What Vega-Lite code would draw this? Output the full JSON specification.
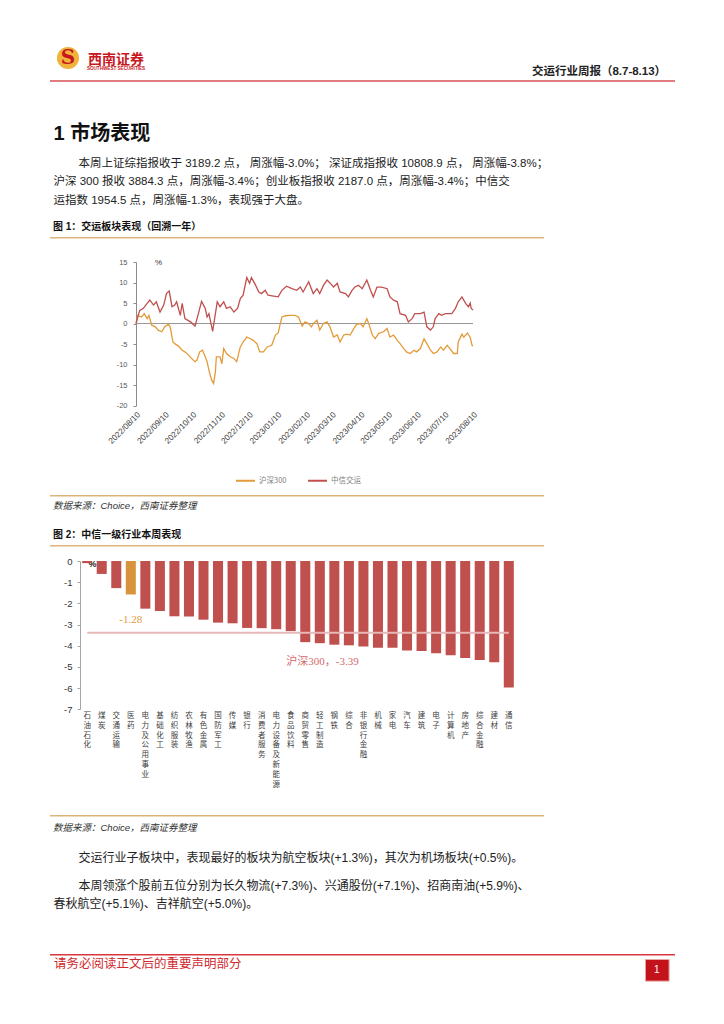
{
 "$schema": "https://vega.github.io/schema/vega-lite/v6.json",
 "background": "white",
 "padding": {"left": 50, "top": 36, "right": 0, "bottom": 0},
 "bounds": "flush",
 "spacing": 0,
 "resolve": {"scale": {"color": "independent"}, "legend": {"color": "independent"}},
 "config": {"view": {"stroke": null}, "font": "Liberation Sans, Noto Sans CJK SC"},
 "vconcat": [
  {"hconcat": [
    {"width": 36, "height": 44, "data": {"values": [{"s": "S"}]}, "layer": [
      {"mark": {"type": "point", "shape": "circle", "filled": true, "size": 490, "color": "#F0B43C", "opacity": 1}},
      {"mark": {"type": "text", "fontSize": 20, "fontWeight": "bold", "color": "#C8161D", "font": "DejaVu Serif"}, "encoding": {"text": {"field": "s"}}}
    ]},
    {"width": 60, "height": 44, "layer": [
      {"data": {"values": [{"t": "西南证券"}]}, "mark": {"type": "text", "fontSize": 14, "fontWeight": "bold", "color": "#C8161D", "dy": 2, "font": "Noto Sans CJK SC"}, "encoding": {"text": {"field": "t"}}},
      {"data": {"values": [{"t": "SOUTHWEST SECURITIES"}]}, "mark": {"type": "text", "fontSize": 4.6, "fontWeight": "bold", "color": "#C8161D", "dy": 11.3}, "encoding": {"text": {"field": "t"}}}
    ]},
    {"width": 386, "height": 44, "data": {"values": []}, "mark": "point"},
    {"width": 134, "height": 44, "data": {"values": [{"t": "交运行业周报（8.7-8.13）"}]}, "mark": {"type": "text", "fontSize": 11.5, "fontWeight": "bold", "color": "#222222", "dy": 13.7}, "encoding": {"text": {"field": "t"}}}
   ], "spacing": 0, "bounds": "flush"},
  {"width": 10, "height": 44, "data": {"values": []}, "mark": "point"},
  {"width": 625, "height": 2, "data": {"values": []}, "mark": "point", "view": {"fill": "#e07b7f"}},
  {"width": 10, "height": 42, "data": {"values": []}, "mark": "point"},
  {"width": 625, "height": 20, "data": {"values": [{"t": "1 市场表现"}]}, "mark": {"type": "text", "align": "left", "baseline": "middle", "dx": 3.5, "fontSize": 20, "fontWeight": "bold", "color": "#111111"}, "encoding": {"text": {"field": "t"}, "x": {"datum": 0, "type": "quantitative", "scale": {"domain": [0, 1]}, "axis": null}}},
  {"width": 10, "height": 11, "data": {"values": []}, "mark": "point"},
  {"width": 625, "height": {"step": 18.33}, "data": {"values": [
    {"line": 1, "t": "本周上证综指报收于 3189.2 点， 周涨幅-3.0%； 深证成指报收 10808.9 点， 周涨幅-3.8%；"},
    {"line": 2, "t": "沪深 300 报收 3884.3 点，周涨幅-3.4%；创业板指报收 2187.0 点，周涨幅-3.4%；中信交"},
    {"line": 3, "t": "运指数 1954.5 点，周涨幅-1.3%，表现强于大盘。"}
   ]}, "layer": [
    {"transform": [{"filter": "datum.line == 1"}], "mark": {"type": "text", "align": "left", "baseline": "middle", "dx": 28.5, "fontSize": 11.5, "color": "#222222"}, "encoding": {"text": {"field": "t"}, "x": {"datum": 0, "type": "quantitative", "scale": {"domain": [0, 1]}, "axis": null}, "y": {"field": "line", "type": "ordinal", "axis": null}}},
    {"transform": [{"filter": "datum.line > 1"}], "mark": {"type": "text", "align": "left", "baseline": "middle", "dx": 3.5, "fontSize": 11.5, "color": "#222222"}, "encoding": {"text": {"field": "t"}, "x": {"datum": 0, "type": "quantitative", "scale": {"domain": [0, 1]}, "axis": null}, "y": {"field": "line", "type": "ordinal", "axis": null}}}
   ]},
  {"width": 10, "height": 7, "data": {"values": []}, "mark": "point"},
  {"width": 625, "height": 20, "data": {"values": [{"t": "图 1：交运板块表现（回溯一年）"}]}, "mark": {"type": "text", "align": "left", "baseline": "middle", "dx": 3, "fontSize": 10, "fontWeight": "bold", "color": "#111111"}, "encoding": {"text": {"field": "t"}, "x": {"datum": 0, "type": "quantitative", "scale": {"domain": [0, 1]}, "axis": null}}},
  {"width": 494, "height": 1.5, "data": {"values": []}, "mark": "point", "view": {"fill": "#ddb57a"}},
  {"width": 10, "height": 22.2, "data": {"values": []}, "mark": "point"},
  {"hconcat": [
    {"width": 86, "height": 143.6, "data": {"values": []}, "mark": "point"},
    {"width": 337, "height": 143.6, "layer": [
      {"data": {"values": [{}]}, "mark": {"type": "rule", "color": "#969696", "strokeWidth": 1},
       "encoding": {"y": {"datum": 0, "type": "quantitative", "scale": {"domain": [-20, 15], "nice": false, "zero": false},
         "axis": {"title": "%", "titleAngle": 0, "titleX": 22, "titleY": 0, "titleAlign": "center", "titleBaseline": "middle", "titleFontSize": 8, "titleFontWeight": "normal", "titleColor": "#333333", "values": [-20, -15, -10, -5, 0, 5, 10, 15], "labelExpr": "datum.value < 0 ? '-' + abs(datum.value) : '' + datum.value", "labelOverlap": false, "grid": false, "domainColor": "#8c8c8c", "tickColor": "#8c8c8c", "tickSize": 3, "labelPadding": 6, "labelFontSize": 7.5, "labelColor": "#595959"}}}},
      {"data": {"values": [
        {"date": "2022-08-10", "series": "沪深300", "value": 0},
        {"date": "2022-08-12", "series": "沪深300", "value": 2.0},
        {"date": "2022-08-16", "series": "沪深300", "value": 1.6},
        {"date": "2022-08-19", "series": "沪深300", "value": 2.4},
        {"date": "2022-08-22", "series": "沪深300", "value": 1.2},
        {"date": "2022-08-24", "series": "沪深300", "value": 2.0},
        {"date": "2022-08-27", "series": "沪深300", "value": -0.4},
        {"date": "2022-08-31", "series": "沪深300", "value": -0.8},
        {"date": "2022-09-03", "series": "沪深300", "value": -1.6},
        {"date": "2022-09-07", "series": "沪深300", "value": -2.0},
        {"date": "2022-09-10", "series": "沪深300", "value": -0.8},
        {"date": "2022-09-14", "series": "沪深300", "value": -0.2},
        {"date": "2022-09-16", "series": "沪深300", "value": -0.8},
        {"date": "2022-09-19", "series": "沪深300", "value": -4.5},
        {"date": "2022-09-21", "series": "沪深300", "value": -4.9},
        {"date": "2022-09-25", "series": "沪深300", "value": -5.5},
        {"date": "2022-09-29", "series": "沪深300", "value": -6.5},
        {"date": "2022-10-02", "series": "沪深300", "value": -6.9},
        {"date": "2022-10-06", "series": "沪深300", "value": -7.7},
        {"date": "2022-10-09", "series": "沪深300", "value": -8.5},
        {"date": "2022-10-13", "series": "沪深300", "value": -9.3},
        {"date": "2022-10-15", "series": "沪深300", "value": -8.9},
        {"date": "2022-10-18", "series": "沪深300", "value": -6.9},
        {"date": "2022-10-21", "series": "沪深300", "value": -6.5},
        {"date": "2022-10-24", "series": "沪深300", "value": -8.1},
        {"date": "2022-10-26", "series": "沪深300", "value": -9.3},
        {"date": "2022-10-28", "series": "沪深300", "value": -11.4},
        {"date": "2022-10-31", "series": "沪深300", "value": -13.8},
        {"date": "2022-11-02", "series": "沪深300", "value": -14.6},
        {"date": "2022-11-04", "series": "沪深300", "value": -11.8},
        {"date": "2022-11-05", "series": "沪深300", "value": -8.1},
        {"date": "2022-11-09", "series": "沪深300", "value": -8.1},
        {"date": "2022-11-11", "series": "沪深300", "value": -9.8},
        {"date": "2022-11-13", "series": "沪深300", "value": -6.1},
        {"date": "2022-11-16", "series": "沪深300", "value": -7.3},
        {"date": "2022-11-20", "series": "沪深300", "value": -8.1},
        {"date": "2022-11-24", "series": "沪深300", "value": -8.5},
        {"date": "2022-11-27", "series": "沪深300", "value": -9.3},
        {"date": "2022-12-01", "series": "沪深300", "value": -5.7},
        {"date": "2022-12-04", "series": "沪深300", "value": -4.5},
        {"date": "2022-12-08", "series": "沪深300", "value": -3.3},
        {"date": "2022-12-12", "series": "沪深300", "value": -3.7},
        {"date": "2022-12-15", "series": "沪深300", "value": -4.1},
        {"date": "2022-12-19", "series": "沪深300", "value": -4.9},
        {"date": "2022-12-22", "series": "沪深300", "value": -6.9},
        {"date": "2022-12-26", "series": "沪深300", "value": -6.9},
        {"date": "2022-12-30", "series": "沪深300", "value": -5.7},
        {"date": "2023-01-04", "series": "沪深300", "value": -5.3},
        {"date": "2023-01-08", "series": "沪深300", "value": -2.8},
        {"date": "2023-01-11", "series": "沪深300", "value": -2.3},
        {"date": "2023-01-15", "series": "沪深300", "value": 1.6},
        {"date": "2023-01-19", "series": "沪深300", "value": 1.9},
        {"date": "2023-01-24", "series": "沪深300", "value": 2.0},
        {"date": "2023-01-29", "series": "沪深300", "value": 2.0},
        {"date": "2023-02-02", "series": "沪深300", "value": 1.6},
        {"date": "2023-02-06", "series": "沪深300", "value": -0.6},
        {"date": "2023-02-09", "series": "沪深300", "value": 0.4},
        {"date": "2023-02-13", "series": "沪深300", "value": 0},
        {"date": "2023-02-16", "series": "沪深300", "value": -0.8},
        {"date": "2023-02-18", "series": "沪深300", "value": 0},
        {"date": "2023-02-22", "series": "沪深300", "value": 0.8},
        {"date": "2023-02-25", "series": "沪深300", "value": -1.6},
        {"date": "2023-03-01", "series": "沪深300", "value": 0},
        {"date": "2023-03-05", "series": "沪深300", "value": 0.4},
        {"date": "2023-03-08", "series": "沪深300", "value": -0.8},
        {"date": "2023-03-12", "series": "沪深300", "value": -3.3},
        {"date": "2023-03-16", "series": "沪深300", "value": -2.8},
        {"date": "2023-03-19", "series": "沪深300", "value": -4.5},
        {"date": "2023-03-23", "series": "沪深300", "value": -2.8},
        {"date": "2023-03-26", "series": "沪深300", "value": -2.6},
        {"date": "2023-03-30", "series": "沪深300", "value": -2.8},
        {"date": "2023-04-03", "series": "沪深300", "value": -1.2},
        {"date": "2023-04-06", "series": "沪深300", "value": -0.2},
        {"date": "2023-04-10", "series": "沪深300", "value": 0},
        {"date": "2023-04-13", "series": "沪深300", "value": -0.8},
        {"date": "2023-04-17", "series": "沪深300", "value": 1.2},
        {"date": "2023-04-19", "series": "沪深300", "value": 0},
        {"date": "2023-04-23", "series": "沪深300", "value": -2.8},
        {"date": "2023-04-26", "series": "沪深300", "value": -3.7},
        {"date": "2023-04-30", "series": "沪深300", "value": -2.4},
        {"date": "2023-05-05", "series": "沪深300", "value": -2.0},
        {"date": "2023-05-09", "series": "沪深300", "value": -1.2},
        {"date": "2023-05-12", "series": "沪深300", "value": -3.3},
        {"date": "2023-05-16", "series": "沪深300", "value": -2.8},
        {"date": "2023-05-20", "series": "沪深300", "value": -4.1},
        {"date": "2023-05-23", "series": "沪深300", "value": -4.9},
        {"date": "2023-05-27", "series": "沪深300", "value": -6.1},
        {"date": "2023-05-30", "series": "沪深300", "value": -6.9},
        {"date": "2023-06-03", "series": "沪深300", "value": -7.3},
        {"date": "2023-06-07", "series": "沪深300", "value": -6.5},
        {"date": "2023-06-10", "series": "沪深300", "value": -6.9},
        {"date": "2023-06-14", "series": "沪深300", "value": -6.1},
        {"date": "2023-06-18", "series": "沪深300", "value": -3.7},
        {"date": "2023-06-21", "series": "沪深300", "value": -4.9},
        {"date": "2023-06-25", "series": "沪深300", "value": -6.5},
        {"date": "2023-06-28", "series": "沪深300", "value": -7.3},
        {"date": "2023-07-02", "series": "沪深300", "value": -6.9},
        {"date": "2023-07-06", "series": "沪深300", "value": -5.7},
        {"date": "2023-07-09", "series": "沪深300", "value": -6.5},
        {"date": "2023-07-13", "series": "沪深300", "value": -5.3},
        {"date": "2023-07-16", "series": "沪深300", "value": -6.1},
        {"date": "2023-07-20", "series": "沪深300", "value": -7.3},
        {"date": "2023-07-24", "series": "沪深300", "value": -7.3},
        {"date": "2023-07-25", "series": "沪深300", "value": -4.5},
        {"date": "2023-07-29", "series": "沪深300", "value": -2.6},
        {"date": "2023-07-31", "series": "沪深300", "value": -3.3},
        {"date": "2023-08-04", "series": "沪深300", "value": -2.3},
        {"date": "2023-08-07", "series": "沪深300", "value": -3.4},
        {"date": "2023-08-09", "series": "沪深300", "value": -5.3},
        {"date": "2023-08-10", "series": "沪深300", "value": -5.5},
        {"date": "2022-08-10", "series": "中信交运", "value": 0},
        {"date": "2022-08-14", "series": "中信交运", "value": 3.2},
        {"date": "2022-08-18", "series": "中信交运", "value": 3.7},
        {"date": "2022-08-22", "series": "中信交运", "value": 4.9},
        {"date": "2022-08-25", "series": "中信交运", "value": 5.7},
        {"date": "2022-08-29", "series": "中信交运", "value": 4.5},
        {"date": "2022-09-01", "series": "中信交运", "value": 5.3},
        {"date": "2022-09-05", "series": "中信交运", "value": 2.8},
        {"date": "2022-09-09", "series": "中信交运", "value": 4.5},
        {"date": "2022-09-12", "series": "中信交运", "value": 7.3},
        {"date": "2022-09-15", "series": "中信交运", "value": 7.9},
        {"date": "2022-09-18", "series": "中信交运", "value": 4.1},
        {"date": "2022-09-21", "series": "中信交运", "value": 4.5},
        {"date": "2022-09-23", "series": "中信交运", "value": 5.3},
        {"date": "2022-09-27", "series": "中信交运", "value": 2.0},
        {"date": "2022-09-29", "series": "中信交运", "value": 4.9},
        {"date": "2022-10-02", "series": "中信交运", "value": 1.2},
        {"date": "2022-10-08", "series": "中信交运", "value": 0.4},
        {"date": "2022-10-13", "series": "中信交运", "value": -0.6},
        {"date": "2022-10-17", "series": "中信交运", "value": 2.8},
        {"date": "2022-10-20", "series": "中信交运", "value": 5.4},
        {"date": "2022-10-24", "series": "中信交运", "value": 3.7},
        {"date": "2022-10-26", "series": "中信交运", "value": 1.6},
        {"date": "2022-10-28", "series": "中信交运", "value": 2.4},
        {"date": "2022-11-01", "series": "中信交运", "value": -1.9},
        {"date": "2022-11-04", "series": "中信交运", "value": 2.4},
        {"date": "2022-11-06", "series": "中信交运", "value": 5.3},
        {"date": "2022-11-09", "series": "中信交运", "value": 4.1},
        {"date": "2022-11-13", "series": "中信交运", "value": 5.3},
        {"date": "2022-11-16", "series": "中信交运", "value": 3.7},
        {"date": "2022-11-20", "series": "中信交运", "value": 4.1},
        {"date": "2022-11-24", "series": "中信交运", "value": 2.8},
        {"date": "2022-11-28", "series": "中信交运", "value": 3.7},
        {"date": "2022-12-01", "series": "中信交运", "value": 6.1},
        {"date": "2022-12-04", "series": "中信交运", "value": 6.9},
        {"date": "2022-12-08", "series": "中信交运", "value": 11.2},
        {"date": "2022-12-11", "series": "中信交运", "value": 9.8},
        {"date": "2022-12-13", "series": "中信交运", "value": 11.2},
        {"date": "2022-12-17", "series": "中信交运", "value": 9.6},
        {"date": "2022-12-21", "series": "中信交运", "value": 7.7},
        {"date": "2022-12-24", "series": "中信交运", "value": 7.3},
        {"date": "2022-12-28", "series": "中信交运", "value": 8.1},
        {"date": "2022-12-31", "series": "中信交运", "value": 6.9},
        {"date": "2023-01-06", "series": "中信交运", "value": 6.7},
        {"date": "2023-01-11", "series": "中信交运", "value": 6.5},
        {"date": "2023-01-15", "series": "中信交运", "value": 8.1},
        {"date": "2023-01-20", "series": "中信交运", "value": 9.1},
        {"date": "2023-01-26", "series": "中信交运", "value": 8.5},
        {"date": "2023-01-31", "series": "中信交运", "value": 8.1},
        {"date": "2023-02-04", "series": "中信交运", "value": 8.9},
        {"date": "2023-02-07", "series": "中信交运", "value": 7.7},
        {"date": "2023-02-13", "series": "中信交运", "value": 10.2},
        {"date": "2023-02-18", "series": "中信交运", "value": 7.3},
        {"date": "2023-02-22", "series": "中信交运", "value": 8.5},
        {"date": "2023-02-25", "series": "中信交运", "value": 7.3},
        {"date": "2023-03-01", "series": "中信交运", "value": 9.3},
        {"date": "2023-03-05", "series": "中信交运", "value": 10.6},
        {"date": "2023-03-08", "series": "中信交运", "value": 9.9},
        {"date": "2023-03-12", "series": "中信交运", "value": 8.9},
        {"date": "2023-03-16", "series": "中信交运", "value": 9.8},
        {"date": "2023-03-19", "series": "中信交运", "value": 7.7},
        {"date": "2023-03-25", "series": "中信交运", "value": 7.3},
        {"date": "2023-03-28", "series": "中信交运", "value": 6.5},
        {"date": "2023-04-01", "series": "中信交运", "value": 8.1},
        {"date": "2023-04-04", "series": "中信交运", "value": 8.9},
        {"date": "2023-04-08", "series": "中信交运", "value": 9.3},
        {"date": "2023-04-12", "series": "中信交运", "value": 8.5},
        {"date": "2023-04-17", "series": "中信交运", "value": 10.6},
        {"date": "2023-04-21", "series": "中信交运", "value": 8.1},
        {"date": "2023-04-24", "series": "中信交运", "value": 6.5},
        {"date": "2023-04-28", "series": "中信交运", "value": 8.9},
        {"date": "2023-05-03", "series": "中信交运", "value": 8.9},
        {"date": "2023-05-09", "series": "中信交运", "value": 8.5},
        {"date": "2023-05-12", "series": "中信交运", "value": 6.5},
        {"date": "2023-05-16", "series": "中信交运", "value": 5.7},
        {"date": "2023-05-20", "series": "中信交运", "value": 5.3},
        {"date": "2023-05-23", "series": "中信交运", "value": 2.4},
        {"date": "2023-05-29", "series": "中信交运", "value": 2.0},
        {"date": "2023-06-01", "series": "中信交运", "value": 0.4},
        {"date": "2023-06-05", "series": "中信交运", "value": 1.2},
        {"date": "2023-06-08", "series": "中信交运", "value": 2.4},
        {"date": "2023-06-14", "series": "中信交运", "value": 2.4},
        {"date": "2023-06-18", "series": "中信交运", "value": 2.8},
        {"date": "2023-06-21", "series": "中信交运", "value": -0.8},
        {"date": "2023-06-25", "series": "中信交运", "value": -1.6},
        {"date": "2023-06-28", "series": "中信交运", "value": -0.8},
        {"date": "2023-06-30", "series": "中信交运", "value": 1.2},
        {"date": "2023-07-04", "series": "中信交运", "value": 2.4},
        {"date": "2023-07-07", "series": "中信交运", "value": 2.0},
        {"date": "2023-07-11", "series": "中信交运", "value": 2.4},
        {"date": "2023-07-15", "series": "中信交运", "value": 2.4},
        {"date": "2023-07-18", "series": "中信交运", "value": 2.4},
        {"date": "2023-07-22", "series": "中信交运", "value": 3.7},
        {"date": "2023-07-25", "series": "中信交运", "value": 5.3},
        {"date": "2023-07-29", "series": "中信交运", "value": 6.5},
        {"date": "2023-08-02", "series": "中信交运", "value": 4.9},
        {"date": "2023-08-05", "series": "中信交运", "value": 4.1},
        {"date": "2023-08-07", "series": "中信交运", "value": 5.0},
        {"date": "2023-08-08", "series": "中信交运", "value": 3.7},
        {"date": "2023-08-10", "series": "中信交运", "value": 3.3}
       ]},
       "mark": {"type": "line", "strokeWidth": 1.3},
       "encoding": {
        "x": {"field": "date", "type": "temporal",
          "scale": {"type": "utc", "domain": [{"year": 2022, "month": 8, "date": 10, "utc": true}, {"year": 2023, "month": 8, "date": 10, "utc": true}]},
          "axis": {"title": null, "domain": false, "ticks": false, "grid": false, "labelAngle": -45, "labelFontSize": 8.2, "labelColor": "#404040", "labelPadding": 5, "labelExpr": "utcFormat(datum.value, '%Y/%m/%d')", "labelOverlap": false,
            "values": [
              {"year": 2022, "month": 8, "date": 10, "utc": true},
              {"year": 2022, "month": 9, "date": 10, "utc": true},
              {"year": 2022, "month": 10, "date": 10, "utc": true},
              {"year": 2022, "month": 11, "date": 10, "utc": true},
              {"year": 2022, "month": 12, "date": 10, "utc": true},
              {"year": 2023, "month": 1, "date": 10, "utc": true},
              {"year": 2023, "month": 2, "date": 10, "utc": true},
              {"year": 2023, "month": 3, "date": 10, "utc": true},
              {"year": 2023, "month": 4, "date": 10, "utc": true},
              {"year": 2023, "month": 5, "date": 10, "utc": true},
              {"year": 2023, "month": 6, "date": 10, "utc": true},
              {"year": 2023, "month": 7, "date": 10, "utc": true},
              {"year": 2023, "month": 8, "date": 10, "utc": true}
            ]}},
        "y": {"field": "value", "type": "quantitative", "scale": {"domain": [-20, 15], "nice": false, "zero": false},
         "axis": {"title": "%", "titleAngle": 0, "titleX": 22, "titleY": 0, "titleAlign": "center", "titleBaseline": "middle", "titleFontSize": 8, "titleFontWeight": "normal", "titleColor": "#333333", "values": [-20, -15, -10, -5, 0, 5, 10, 15], "labelExpr": "datum.value < 0 ? '-' + abs(datum.value) : '' + datum.value", "labelOverlap": false, "grid": false, "domainColor": "#8c8c8c", "tickColor": "#8c8c8c", "tickSize": 3, "labelPadding": 6, "labelFontSize": 7.5, "labelColor": "#595959"}},
        "color": {"field": "series", "type": "nominal", "scale": {"domain": ["沪深300", "中信交运"], "range": ["#E39B3A", "#C0504D"]},
          "legend": {"orient": "none", "legendX": 99, "legendY": 208, "direction": "horizontal", "title": null, "labelFontSize": 7.5, "labelColor": "#7f7f7f", "labelFont": "Noto Sans CJK SC", "symbolType": "stroke", "symbolSize": 360, "symbolStrokeWidth": 2, "labelOffset": 3, "columnPadding": 17}}
       }}
    ]}
   ], "spacing": 0, "bounds": "flush", "resolve": {"scale": {"color": "independent"}, "legend": {"color": "independent"}}},
  {"width": 10, "height": 232.8, "data": {"values": []}, "mark": "point"},
  {"width": 494, "height": 1.5, "data": {"values": []}, "mark": "point", "view": {"fill": "#ddb57a"}},
  {"width": 625, "height": 18, "data": {"values": [{"t": "数据来源：Choice，西南证券整理"}]}, "mark": {"type": "text", "align": "left", "baseline": "middle", "dx": 3, "fontSize": 9.5, "fontStyle": "italic", "color": "#333333"}, "encoding": {"text": {"field": "t"}, "x": {"datum": 0, "type": "quantitative", "scale": {"domain": [0, 1]}, "axis": null}}},
  {"width": 10, "height": 10, "data": {"values": []}, "mark": "point"},
  {"width": 625, "height": 19.5, "data": {"values": [{"t": "图 2：中信一级行业本周表现"}]}, "mark": {"type": "text", "align": "left", "baseline": "middle", "dx": 3, "fontSize": 10, "fontWeight": "bold", "color": "#111111"}, "encoding": {"text": {"field": "t"}, "x": {"datum": 0, "type": "quantitative", "scale": {"domain": [0, 1]}, "axis": null}}},
  {"width": 494, "height": 1.5, "data": {"values": []}, "mark": "point", "view": {"fill": "#ddb57a"}},
  {"width": 10, "height": 13.7, "data": {"values": []}, "mark": "point"},
  {"hconcat": [
    {"width": 30, "height": 148.3, "data": {"values": []}, "mark": "point"},
    {"width": 436, "height": 148.3,
     "data": {"values": [
       {"industry": "石油石化", "chg": -0.10, "hs300": -3.39, "highlight": "no"},
       {"industry": "煤炭", "chg": -0.61, "hs300": -3.39, "highlight": "no"},
       {"industry": "交通运输", "chg": -1.28, "hs300": -3.39, "highlight": "no"},
       {"industry": "医药", "chg": -1.58, "hs300": -3.39, "highlight": "yes", "note": "-1.28"},
       {"industry": "电力及公用事业", "chg": -2.25, "hs300": -3.39, "highlight": "no"},
       {"industry": "基础化工", "chg": -2.36, "hs300": -3.39, "highlight": "no"},
       {"industry": "纺织服装", "chg": -2.61, "hs300": -3.39, "highlight": "no"},
       {"industry": "农林牧渔", "chg": -2.62, "hs300": -3.39, "highlight": "no"},
       {"industry": "有色金属", "chg": -2.77, "hs300": -3.39, "highlight": "no"},
       {"industry": "国防军工", "chg": -2.91, "hs300": -3.39, "highlight": "no"},
       {"industry": "传媒", "chg": -2.94, "hs300": -3.39, "highlight": "no"},
       {"industry": "银行", "chg": -3.16, "hs300": -3.39, "highlight": "no"},
       {"industry": "消费者服务", "chg": -3.17, "hs300": -3.39, "highlight": "no"},
       {"industry": "电力设备及新能源", "chg": -3.22, "hs300": -3.39, "highlight": "no"},
       {"industry": "食品饮料", "chg": -3.31, "hs300": -3.39, "highlight": "no"},
       {"industry": "商贸零售", "chg": -3.83, "hs300": -3.39, "highlight": "no"},
       {"industry": "轻工制造", "chg": -3.88, "hs300": -3.39, "highlight": "no", "refnote": "沪深300，-3.39"},
       {"industry": "钢铁", "chg": -3.95, "hs300": -3.39, "highlight": "no"},
       {"industry": "综合", "chg": -3.98, "hs300": -3.39, "highlight": "no"},
       {"industry": "非银行金融", "chg": -4.03, "hs300": -3.39, "highlight": "no"},
       {"industry": "机械", "chg": -4.09, "hs300": -3.39, "highlight": "no"},
       {"industry": "家电", "chg": -4.10, "hs300": -3.39, "highlight": "no"},
       {"industry": "汽车", "chg": -4.22, "hs300": -3.39, "highlight": "no"},
       {"industry": "建筑", "chg": -4.25, "hs300": -3.39, "highlight": "no"},
       {"industry": "电子", "chg": -4.36, "hs300": -3.39, "highlight": "no"},
       {"industry": "计算机", "chg": -4.45, "hs300": -3.39, "highlight": "no"},
       {"industry": "房地产", "chg": -4.58, "hs300": -3.39, "highlight": "no"},
       {"industry": "综合金融", "chg": -4.67, "hs300": -3.39, "highlight": "no"},
       {"industry": "建材", "chg": -4.78, "hs300": -3.39, "highlight": "no"},
       {"industry": "通信", "chg": -5.97, "hs300": -3.39, "highlight": "no"}
     ]},
     "layer": [
      {"mark": {"type": "bar"},
       "encoding": {
        "x": {"field": "industry", "type": "nominal", "sort": null, "scale": {"paddingInner": 0.31, "paddingOuter": 0.15},
          "axis": {"title": null, "domain": false, "ticks": false, "grid": false, "labelAngle": 0, "labelExpr": "split(datum.label, '')", "labelFontSize": 7.5, "labelLineHeight": 9.9, "labelBaseline": "top", "labelPadding": 2, "labelColor": "#404040", "labelOverlap": false, "labelFont": "Noto Sans CJK SC"}},
        "y": {"field": "chg", "type": "quantitative", "scale": {"domain": [-7, 0], "nice": false, "zero": false},
          "axis": {"title": "%", "titleAngle": 0, "titleX": 12, "titleY": 2.5, "titleAlign": "center", "titleBaseline": "middle", "titleFontSize": 9, "titleFontWeight": "bold", "titleColor": "#222222", "values": [-7, -6, -5, -4, -3, -2, -1, 0], "labelExpr": "datum.value < 0 ? '-' + abs(datum.value) : '' + datum.value", "labelOverlap": false, "grid": false, "domainColor": "#a6a6a6", "tickColor": "#a6a6a6", "tickSize": 3, "labelPadding": 5, "labelFontSize": 9.5, "labelColor": "#333333"}},
        "color": {"field": "highlight", "type": "nominal", "scale": {"domain": ["no", "yes"], "range": ["#C0504D", "#D8943D"]}, "legend": null}
       }},
      {"mark": {"type": "line", "color": "#E6B9B8", "strokeWidth": 2},
       "encoding": {
        "x": {"field": "industry", "type": "nominal", "sort": null, "scale": {"paddingInner": 0.31, "paddingOuter": 0.15},
          "axis": {"title": null, "domain": false, "ticks": false, "grid": false, "labelAngle": 0, "labelExpr": "split(datum.label, '')", "labelFontSize": 7.5, "labelLineHeight": 9.9, "labelBaseline": "top", "labelPadding": 2, "labelColor": "#404040", "labelOverlap": false, "labelFont": "Noto Sans CJK SC"}},
        "y": {"field": "hs300", "type": "quantitative", "scale": {"domain": [-7, 0], "nice": false, "zero": false},
          "axis": {"title": "%", "titleAngle": 0, "titleX": 12, "titleY": 2.5, "titleAlign": "center", "titleBaseline": "middle", "titleFontSize": 9, "titleFontWeight": "bold", "titleColor": "#222222", "values": [-7, -6, -5, -4, -3, -2, -1, 0], "labelExpr": "datum.value < 0 ? '-' + abs(datum.value) : '' + datum.value", "labelOverlap": false, "grid": false, "domainColor": "#a6a6a6", "tickColor": "#a6a6a6", "tickSize": 3, "labelPadding": 5, "labelFontSize": 9.5, "labelColor": "#333333"}}
       }},
      {"transform": [{"filter": "isValid(datum.note)"}],
       "mark": {"type": "text", "dy": 25.5, "fontSize": 11, "color": "#E39B3A", "font": "Liberation Serif"},
       "encoding": {
        "x": {"field": "industry", "type": "nominal", "sort": null, "scale": {"paddingInner": 0.31, "paddingOuter": 0.15},
          "axis": {"title": null, "domain": false, "ticks": false, "grid": false, "labelAngle": 0, "labelExpr": "split(datum.label, '')", "labelFontSize": 7.5, "labelLineHeight": 9.9, "labelBaseline": "top", "labelPadding": 2, "labelColor": "#404040", "labelOverlap": false, "labelFont": "Noto Sans CJK SC"}},
        "y": {"field": "chg", "type": "quantitative", "scale": {"domain": [-7, 0], "nice": false, "zero": false},
          "axis": {"title": "%", "titleAngle": 0, "titleX": 12, "titleY": 2.5, "titleAlign": "center", "titleBaseline": "middle", "titleFontSize": 9, "titleFontWeight": "bold", "titleColor": "#222222", "values": [-7, -6, -5, -4, -3, -2, -1, 0], "labelExpr": "datum.value < 0 ? '-' + abs(datum.value) : '' + datum.value", "labelOverlap": false, "grid": false, "domainColor": "#a6a6a6", "tickColor": "#a6a6a6", "tickSize": 3, "labelPadding": 5, "labelFontSize": 9.5, "labelColor": "#333333"}},
        "text": {"field": "note"}
       }},
      {"transform": [{"filter": "isValid(datum.refnote)"}],
       "mark": {"type": "text", "dy": 28.8, "dx": 2.7, "fontSize": 11, "color": "#D46A6D", "font": "Liberation Serif, Noto Sans CJK SC"},
       "encoding": {
        "x": {"field": "industry", "type": "nominal", "sort": null, "scale": {"paddingInner": 0.31, "paddingOuter": 0.15},
          "axis": {"title": null, "domain": false, "ticks": false, "grid": false, "labelAngle": 0, "labelExpr": "split(datum.label, '')", "labelFontSize": 7.5, "labelLineHeight": 9.9, "labelBaseline": "top", "labelPadding": 2, "labelColor": "#404040", "labelOverlap": false, "labelFont": "Noto Sans CJK SC"}},
        "y": {"field": "hs300", "type": "quantitative", "scale": {"domain": [-7, 0], "nice": false, "zero": false},
          "axis": {"title": "%", "titleAngle": 0, "titleX": 12, "titleY": 2.5, "titleAlign": "center", "titleBaseline": "middle", "titleFontSize": 9, "titleFontWeight": "bold", "titleColor": "#222222", "values": [-7, -6, -5, -4, -3, -2, -1, 0], "labelExpr": "datum.value < 0 ? '-' + abs(datum.value) : '' + datum.value", "labelOverlap": false, "grid": false, "domainColor": "#a6a6a6", "tickColor": "#a6a6a6", "tickSize": 3, "labelPadding": 5, "labelFontSize": 9.5, "labelColor": "#333333"}},
        "text": {"field": "refnote"}
       }}
     ]}
   ], "spacing": 0, "bounds": "flush", "resolve": {"scale": {"color": "independent"}, "legend": {"color": "independent"}}},
  {"width": 10, "height": 253.3, "data": {"values": []}, "mark": "point"},
  {"width": 494, "height": 1.5, "data": {"values": []}, "mark": "point", "view": {"fill": "#ddb57a"}},
  {"width": 625, "height": 21.5, "data": {"values": [{"t": "数据来源：Choice，西南证券整理"}]}, "mark": {"type": "text", "align": "left", "baseline": "middle", "dx": 3, "fontSize": 9.5, "fontStyle": "italic", "color": "#333333"}, "encoding": {"text": {"field": "t"}, "x": {"datum": 0, "type": "quantitative", "scale": {"domain": [0, 1]}, "axis": null}}},
  {"width": 10, "height": 8.5, "data": {"values": []}, "mark": "point"},
  {"width": 625, "height": 20.5, "data": {"values": [{"t": "交运行业子板块中，表现最好的板块为航空板块(+1.3%)，其次为机场板块(+0.5%)。"}]}, "mark": {"type": "text", "align": "left", "baseline": "middle", "dx": 28.5, "fontSize": 12, "color": "#222222"}, "encoding": {"text": {"field": "t"}, "x": {"datum": 0, "type": "quantitative", "scale": {"domain": [0, 1]}, "axis": null}}},
  {"width": 10, "height": 8, "data": {"values": []}, "mark": "point"},
  {"width": 625, "height": {"step": 18}, "data": {"values": [
    {"line": 1, "t": "本周领涨个股前五位分别为长久物流(+7.3%)、兴通股份(+7.1%)、招商南油(+5.9%)、"},
    {"line": 2, "t": "春秋航空(+5.1%)、吉祥航空(+5.0%)。"}
   ]}, "layer": [
    {"transform": [{"filter": "datum.line == 1"}], "mark": {"type": "text", "align": "left", "baseline": "middle", "dx": 28.5, "fontSize": 12, "color": "#222222"}, "encoding": {"text": {"field": "t"}, "x": {"datum": 0, "type": "quantitative", "scale": {"domain": [0, 1]}, "axis": null}, "y": {"field": "line", "type": "ordinal", "axis": null}}},
    {"transform": [{"filter": "datum.line > 1"}], "mark": {"type": "text", "align": "left", "baseline": "middle", "dx": 3.5, "fontSize": 12, "color": "#222222"}, "encoding": {"text": {"field": "t"}, "x": {"datum": 0, "type": "quantitative", "scale": {"domain": [0, 1]}, "axis": null}, "y": {"field": "line", "type": "ordinal", "axis": null}}}
   ]},
  {"width": 10, "height": 40.5, "data": {"values": []}, "mark": "point"},
  {"width": 625, "height": 1.5, "data": {"values": []}, "mark": "point", "view": {"fill": "#d9363e"}},
  {"width": 10, "height": 2.7, "data": {"values": []}, "mark": "point"},
  {"hconcat": [
    {"width": 595, "height": 21.6, "data": {"values": [{"t": "请务必阅读正文后的重要声明部分"}]}, "mark": {"type": "text", "align": "left", "baseline": "middle", "dx": 4, "dy": -6, "fontSize": 12.5, "color": "#D0282E", "font": "Noto Sans CJK SC"}, "encoding": {"text": {"field": "t"}, "x": {"datum": 0, "type": "quantitative", "scale": {"domain": [0, 1]}, "axis": null}}},
    {"width": 23.6, "height": 21.6, "view": {"fill": "#C4121A", "stroke": "#e8a3a3"}, "data": {"values": [{"t": "1"}]}, "mark": {"type": "text", "fontSize": 10, "color": "#ffffff"}, "encoding": {"text": {"field": "t"}}}
   ], "spacing": 0, "bounds": "flush"}
 ]
}
